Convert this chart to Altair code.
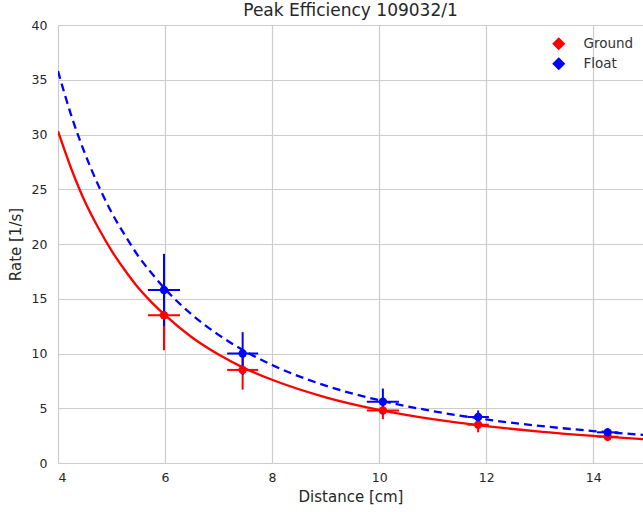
import altair as alt
import pandas as pd

# measured points
dist = [5.98, 7.45, 10.07, 11.85, 14.27]
dist_err = [0.30, 0.29, 0.30, 0.20, 0.20]
ground_rate = [13.5, 8.5, 4.8, 3.5, 2.4]
ground_err = [3.2, 1.8, 0.8, 0.7, 0.4]
float_rate = [15.8, 10.0, 5.6, 4.2, 2.8]
float_err = [3.3, 1.95, 1.2, 0.6, 0.4]

# fitted curves
curve_x = [4, 4.25, 4.5, 4.75, 5, 5.25, 5.5, 5.75, 6, 6.5, 7, 7.5, 8, 9, 10, 11, 12, 13, 14, 15]
ground_curve = [30.3, 26.85, 23.9, 21.5, 19.4, 17.6, 16.0, 14.67, 13.5, 11.48, 9.9, 8.62,
                7.6, 6.0, 4.85, 4.0, 3.37, 2.87, 2.47, 2.15]
float_curve = [35.8, 31.7, 28.3, 25.4, 22.9, 20.8, 18.9, 17.33, 15.9, 13.56, 11.7, 10.19,
               8.95, 7.07, 5.73, 4.74, 3.98, 3.39, 2.92, 2.55]

series = ["Ground", "Float"]
colors = ["red", "blue"]

rows = []
for name, rates, errs in [("Ground", ground_rate, ground_err), ("Float", float_rate, float_err)]:
    for x, xe, y, ye in zip(dist, dist_err, rates, errs):
        rows.append({"series": name, "x": x, "xlo": x - xe, "xhi": x + xe,
                     "y": y, "ylo": y - ye, "yhi": y + ye})
pts = pd.DataFrame(rows)

crows = []
for name, vals in [("Ground", ground_curve), ("Float", float_curve)]:
    for x, y in zip(curve_x, vals):
        crows.append({"series": name, "x": x, "y": y})
curves = pd.DataFrame(crows)

xs = alt.Scale(domain=[4, 14.93], nice=False, zero=False)
ys = alt.Scale(domain=[0, 40], nice=False)
cs = alt.Scale(domain=series, range=colors)

xaxis = alt.Axis(values=[4, 6, 8, 10, 12, 14], title="Distance [cm]", labelPadding=8)
yaxis = alt.Axis(values=list(range(0, 41, 5)), title="Rate [1/s]", labelPadding=11, titlePadding=8)

legend = alt.Legend(title=None, orient="none", legendX=494, legendY=12, symbolType="diamond",
                    symbolSize=120, labelFontSize=13.5, labelColor="#333333",
                    rowPadding=2, labelOffset=18)
color = alt.Color("series:N", scale=cs, sort=series, legend=legend)

ground_line = alt.Chart(curves).transform_filter(alt.datum.series == "Ground").mark_line(
    color="red", strokeWidth=2.3, interpolate="monotone", clip=True
).encode(x=alt.X("x:Q", scale=xs, axis=xaxis), y=alt.Y("y:Q", scale=ys, axis=yaxis))

float_line = alt.Chart(curves).transform_filter(alt.datum.series == "Float").mark_line(
    color="blue", strokeWidth=2.3, strokeDash=[8, 5], interpolate="monotone", clip=True
).encode(x=alt.X("x:Q", scale=xs), y=alt.Y("y:Q", scale=ys))

hbar = alt.Chart(pts).mark_rule(strokeWidth=2).encode(
    x=alt.X("xlo:Q", scale=xs), x2="xhi:Q", y=alt.Y("y:Q", scale=ys), color=color
)
vbar = alt.Chart(pts).mark_rule(strokeWidth=2).encode(
    x=alt.X("x:Q", scale=xs), y=alt.Y("ylo:Q", scale=ys), y2="yhi:Q", color=color
)
dots = alt.Chart(pts).mark_point(filled=True, size=70, opacity=1, shape="circle").encode(
    x=alt.X("x:Q", scale=xs), y=alt.Y("y:Q", scale=ys), color=color
)

chart = alt.layer(ground_line, float_line, hbar, vbar, dots).properties(
    width=585, height=438,
    title=alt.TitleParams("Peak Efficiency 109032/1", fontSize=17, fontWeight="normal",
                          color="#262626", offset=4, dy=5),
    autosize=alt.AutoSizeParams(type="none"),
    padding={"left": 58, "top": 25, "right": 0, "bottom": 49},
).configure(font="DejaVu Sans").configure_view(stroke=None).configure_axis(
    grid=True, gridColor="#cccccc", gridWidth=1.2, domain=True, domainColor="#cccccc",
    ticks=False, labelFontSize=12.5, labelColor="#262626", titleFontSize=15,
    titleColor="#262626", titleFontWeight="normal", titlePadding=6
)

chart.save("out.html", embed_options={"renderer": "svg", "actions": False})
